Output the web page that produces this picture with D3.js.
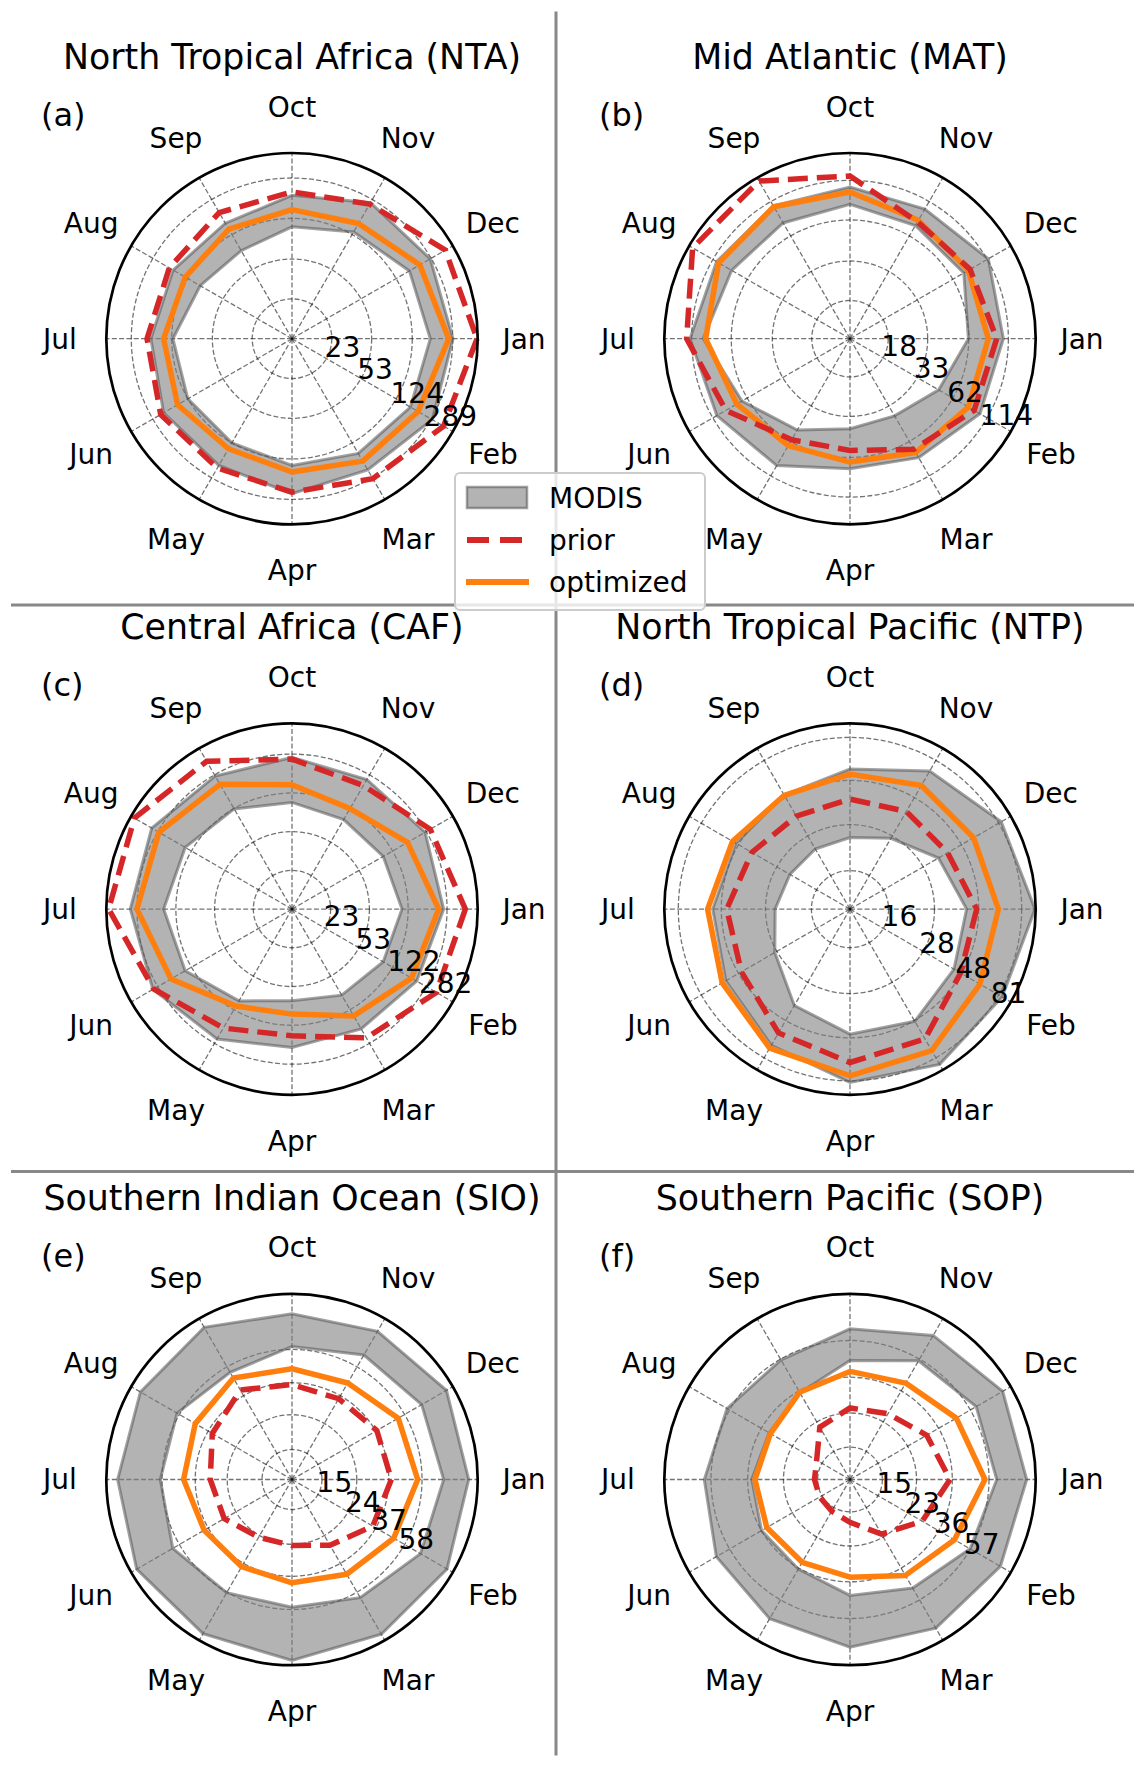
<!DOCTYPE html>
<html>
<head>
<meta charset="utf-8">
<script src="https://cdn.jsdelivr.net/npm/d3@7/dist/d3.min.js"></script>
<style>
  body { margin: 0; background: #fff; }
  svg { display: block; font-family: 'DejaVu Sans', sans-serif; }
</style>
</head>
<body>
<div class="chart"></div>
<script>
const months = ['Jan', 'Feb', 'Mar', 'Apr', 'May', 'Jun', 'Jul', 'Aug', 'Sep', 'Oct', 'Nov', 'Dec'];

const regions = [
  'North Tropical Africa (NTA)', 'Mid Atlantic (MAT)',
  'Central Africa (CAF)', 'North Tropical Pacific (NTP)',
  'Southern Indian Ocean (SIO)', 'Southern Pacific (SOP)'
];
const letters = ['(a)', '(b)', '(c)', '(d)', '(e)', '(f)'];

// radial axis: log scale from 10 at the centre to rMax at the rim
const rMin = 10;
const rMax = [488, 173.5, 546, 96.1, 123.1, 102.3];
const rTicks = [
  [23, 53, 124, 289],
  [18, 33, 62, 114],
  [23, 53, 122, 282],
  [16, 28, 48, 81],
  [15, 24, 37, 58],
  [15, 23, 36, 57]
];

// MODIS range (lower / upper edge), one row per region, Jan..Dec
const modisLo = [
  [181, 175, 160, 142, 124, 124, 121, 92, 84, 104, 132, 171],
  [61.7, 48.2, 39.3, 39.9, 50.5, 68.0, 95.3, 81.7, 78.0, 78.8, 74.5, 75.3],
  [106.9, 96.7, 85.0, 72.0, 98.1, 142.5, 158.7, 142.5, 120.8, 99.5, 92.6, 96.7],
  [41.4, 43.2, 48.5, 45.9, 38.8, 28.8, 24.9, 23.3, 23.3, 23.9, 27.1, 34.7],
  [77.7, 74.3, 63.2, 56.2, 58.5, 64.3, 59.3, 60.1, 53.2, 60.4, 69.8, 75.7],
  [62.8, 56.8, 48.0, 42.7, 36.5, 35.9, 34.2, 32.2, 35.0, 44.4, 55.6, 62.0]
];
const modisHi = [
  [291, 297, 238, 257, 214, 223, 192, 177, 163, 201, 268, 283],
  [105.6, 100.3, 82.6, 73.8, 95.0, 106.1, 116.9, 106.7, 105.6, 102.9, 99.8, 116.4],
  [262.4, 222.5, 196.9, 196.9, 253.1, 318.5, 325.5, 327.8, 273.9, 262.4, 251.3, 273.9],
  [95.3, 85.1, 88.9, 82.7, 68.0, 57.4, 53.3, 49.8, 49.8, 55.1, 69.7, 84.0],
  [109.0, 112.5, 112.0, 115.6, 111.0, 113.0, 105.6, 106.6, 107.5, 94.0, 101.0, 111.5],
  [91.4, 88.0, 85.8, 81.6, 74.8, 69.1, 62.0, 59.2, 56.3, 66.0, 80.3, 91.0]
];
const prior = [
  [481, 390, 295, 248, 228, 239, 208, 194, 211, 216, 259, 407],
  [95.3, 90.5, 71.2, 55.7, 60.1, 90.5, 123.1, 163.2, 164.0, 121.8, 79.6, 84.2],
  [418.6, 362.5, 246.0, 153.1, 192.7, 311.8, 519.1, 504.3, 395.3, 253.1, 216.1, 311.8],
  [46.8, 47.4, 62.2, 64.8, 57.1, 46.1, 44.9, 39.8, 37.0, 38.2, 39.5, 39.5],
  [38.3, 35.3, 27.9, 24.4, 24.6, 28.8, 30.2, 34.7, 40.4, 36.1, 35.3, 37.6],
  [35.0, 28.4, 22.0, 17.1, 15.8, 15.5, 15.6, 16.2, 21.3, 24.5, 25.9, 30.3]
];
const optimized = [
  [266, 211, 193, 163, 143, 159, 147, 132, 141, 149, 162, 220],
  [83.8, 81.7, 75.3, 66.6, 66.6, 74.5, 91.9, 102.9, 103.9, 95.3, 81.7, 81.7],
  [235.6, 195.5, 142.5, 96.0, 111.6, 202.6, 282.0, 273.9, 222.5, 145.6, 121.7, 176.8],
  [61.0, 62.2, 73.2, 76.2, 70.8, 60.4, 56.7, 52.2, 49.6, 51.8, 56.9, 56.9],
  [54.7, 48.9, 43.9, 40.4, 39.0, 39.4, 43.3, 45.3, 48.7, 44.7, 45.1, 52.5],
  [54.2, 45.3, 40.0, 34.0, 33.1, 33.3, 32.9, 31.6, 35.3, 38.7, 40.3, 46.5]
];

const config = {
  width: 1145,
  height: 1767,
  cols: [292, 850],
  rows: [338.7, 909.1, 1479.5],
  radius: 185.7,
  monthPad: 232,
  red: '#d62728',
  orange: '#ff7f0e'
};

const svg = d3.select('.chart')
  .append('svg')
  .attr('width', config.width)
  .attr('height', config.height);

// panel separators
svg.append('line')
  .attr('x1', 556).attr('x2', 556)
  .attr('y1', 11.5).attr('y2', 1755.5)
  .attr('stroke', '#888').attr('stroke-width', 3);

svg.selectAll('line.sep')
  .data([605, 1171.5])
  .join('line')
  .attr('class', 'sep')
  .attr('x1', 11).attr('x2', 1134)
  .attr('y1', d => d).attr('y2', d => d)
  .attr('stroke', '#888').attr('stroke-width', 3);

const angle = d3.scaleLinear().domain([0, 12]).range([Math.PI / 2, Math.PI * 2.5]);
const labelAngle = 35 * Math.PI / 180;

regions.forEach((name, i) => drawPanel(i));
drawLegend();

function drawPanel(i) {
  const cx = config.cols[i % 2];
  const cy = config.rows[Math.floor(i / 2)];
  const R = config.radius;
  const g = svg.append('g').attr('transform', `translate(${cx},${cy})`);

  const r = d3.scaleLog().domain([rMin, rMax[i]]).range([0, R]);
  const ring = d3.lineRadial()
    .angle((d, j) => angle(j))
    .radius(d => r(d))
    .curve(d3.curveLinearClosed);

  // grid
  g.selectAll('circle.ring')
    .data(rTicks[i])
    .join('circle')
    .attr('class', 'ring')
    .attr('r', d => r(d))
    .attr('fill', 'none')
    .attr('stroke', '#000')
    .attr('stroke-opacity', 0.55)
    .attr('stroke-width', 1.3)
    .attr('stroke-dasharray', '5,2.3');

  g.selectAll('line.spoke')
    .data(months)
    .join('line')
    .attr('class', 'spoke')
    .attr('x1', 0).attr('y1', 0)
    .attr('x2', (d, j) => R * Math.sin(angle(j)))
    .attr('y2', (d, j) => -R * Math.cos(angle(j)))
    .attr('stroke', '#000')
    .attr('stroke-opacity', 0.55)
    .attr('stroke-width', 1.3)
    .attr('stroke-dasharray', '5,2.3');

  // MODIS band
  g.append('path')
    .attr('d', ring(modisHi[i]) + ring(modisLo[i]))
    .attr('fill', 'gray')
    .attr('fill-opacity', 0.6)
    .attr('fill-rule', 'evenodd');

  g.selectAll('path.edge')
    .data([modisHi[i], modisLo[i]])
    .join('path')
    .attr('class', 'edge')
    .attr('d', ring)
    .attr('fill', 'none')
    .attr('stroke', '#555')
    .attr('stroke-opacity', 0.55)
    .attr('stroke-width', 3);

  g.append('path')
    .attr('d', ring(optimized[i]))
    .attr('fill', 'none')
    .attr('stroke', config.orange)
    .attr('stroke-width', 5.5)
    .attr('stroke-linejoin', 'round');

  g.append('path')
    .attr('d', ring(prior[i]))
    .attr('fill', 'none')
    .attr('stroke', config.red)
    .attr('stroke-width', 5.5)
    .attr('stroke-dasharray', '20,9');

  // rim
  g.append('circle')
    .attr('r', R)
    .attr('fill', 'none')
    .attr('stroke', '#000')
    .attr('stroke-width', 2.7);

  // radial tick labels
  g.selectAll('text.rlabel')
    .data(rTicks[i])
    .join('text')
    .attr('class', 'rlabel')
    .attr('x', d => r(d) * Math.cos(labelAngle))
    .attr('y', d => r(d) * Math.sin(labelAngle) - 5)
    .attr('font-size', 28)
    .text(d => d);

  // month labels
  g.selectAll('text.month')
    .data(months)
    .join('text')
    .attr('class', 'month')
    .attr('x', (d, j) => config.monthPad * Math.sin(angle(j)))
    .attr('y', (d, j) => -config.monthPad * Math.cos(angle(j)))
    .attr('dy', '0.35em')
    .attr('text-anchor', 'middle')
    .attr('font-size', 28)
    .text(d => d);

  g.append('text')
    .attr('y', -269.8)
    .attr('text-anchor', 'middle')
    .attr('font-size', 34.8)
    .text(regions[i]);

  g.append('text')
    .attr('x', -251)
    .attr('y', -213)
    .attr('font-size', 32)
    .text(letters[i]);
}

function drawLegend() {
  const lg = svg.append('g');

  lg.append('rect')
    .attr('x', 455).attr('y', 473)
    .attr('width', 250).attr('height', 137)
    .attr('rx', 5)
    .attr('fill', '#fff').attr('fill-opacity', 0.8)
    .attr('stroke', '#ccc').attr('stroke-width', 2);

  lg.append('rect')
    .attr('x', 467).attr('y', 487)
    .attr('width', 60).attr('height', 21)
    .attr('fill', 'gray').attr('fill-opacity', 0.6)
    .attr('stroke', '#555').attr('stroke-opacity', 0.55)
    .attr('stroke-width', 2.5);

  lg.append('line')
    .attr('x1', 467).attr('x2', 528)
    .attr('y1', 540).attr('y2', 540)
    .attr('stroke', config.red).attr('stroke-width', 6)
    .attr('stroke-dasharray', '22,11');

  lg.append('line')
    .attr('x1', 466).attr('x2', 529)
    .attr('y1', 582).attr('y2', 582)
    .attr('stroke', config.orange).attr('stroke-width', 6);

  lg.selectAll('text')
    .data(['MODIS', 'prior', 'optimized'])
    .join('text')
    .attr('x', 549)
    .attr('y', (d, j) => 507.5 + j * 42)
    .attr('font-size', 28)
    .text(d => d);
}
</script>
</body>
</html>
